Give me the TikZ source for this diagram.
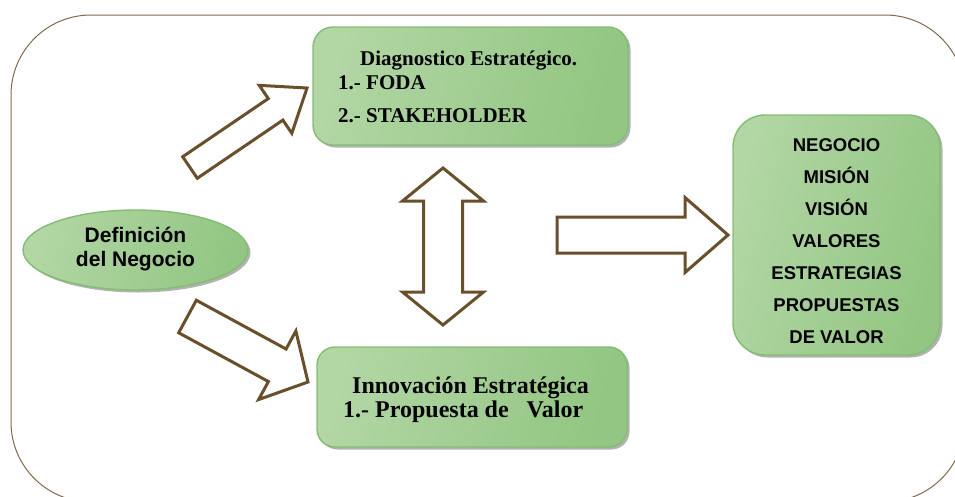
\documentclass[tikz,border=0pt]{standalone}
\usepackage{fontspec}
\setmainfont{Liberation Serif}
\setsansfont{Liberation Sans}
\usetikzlibrary{shapes.geometric,shadows,calc}
\definecolor{brownA}{RGB}{106,79,42}
\definecolor{frameC}{RGB}{128,106,72}
\definecolor{gEdge}{RGB}{130,190,112}
\definecolor{gDark}{RGB}{146,198,130}
\definecolor{gMid}{RGB}{178,214,164}
\definecolor{gLight}{RGB}{224,238,218}
\tikzset{
  gshape/.style={draw=gEdge, line width=1.4pt, shading=axis, left color=gMid,
    middle color=gLight, right color=gDark, shading angle=75,
    drop shadow={shadow xshift=2.5pt, shadow yshift=-2.5pt, fill=black!55, opacity=.55},
    inner sep=0pt},
  gbox/.style={gshape, rectangle},
  gell/.style={gshape, ellipse},
  serifA/.style={inner sep=0pt, font=\rmfamily\bfseries\fontsize{21}{24}\selectfont},
  serifB/.style={inner sep=0pt, font=\rmfamily\bfseries\fontsize{24}{26}\selectfont},
  barrow/.style={draw=brownA, line width=3pt, fill=white, line join=miter},
}
\newcommand\blockarrow[6]{% name, tail, tip, half shaft, half head, head length
  \coordinate (#1-h) at ($(#3)!#6!(#2)$);
  \draw[barrow] ($(#2)!#4!90:(#3)$) -- ($(#1-h)!#4!90:(#3)$) -- ($(#1-h)!#5!90:(#3)$)
    -- (#3) -- ($(#1-h)!#5!-90:(#3)$) -- ($(#1-h)!#4!-90:(#3)$) -- ($(#2)!#4!-90:(#3)$) -- cycle;
}
\newcommand\doubleblockarrow[5]{% name, tip1, tip2, half shaft, half head
  \coordinate (#1-h1) at ($(#2)!33pt!(#3)$);
  \coordinate (#1-h2) at ($(#3)!33pt!(#2)$);
  \draw[barrow] (#2) -- ($(#1-h1)!#5!90:(#3)$) -- ($(#1-h1)!#4!90:(#3)$)
    -- ($(#1-h2)!#4!-90:(#2)$) -- ($(#1-h2)!#5!-90:(#2)$) -- (#3)
    -- ($(#1-h2)!#5!90:(#2)$) -- ($(#1-h2)!#4!90:(#2)$)
    -- ($(#1-h1)!#4!-90:(#3)$) -- ($(#1-h1)!#5!-90:(#3)$) -- cycle;
}
\begin{document}
\begin{tikzpicture}[x=1pt, y=-1pt]
\useasboundingbox (0,0) rectangle (955,496);
% outer frame
\draw[frameC, line width=1pt, rounded corners=80pt] (11,15) rectangle (965,502);

% nodes
\node[gbox, rounded corners=20pt, minimum width=315pt, minimum height=118pt] (diag) at (470.5,86) {};
\node[gbox, rounded corners=18pt, minimum width=310pt, minimum height=100pt] (innov) at (472,397) {};
\node[gbox, rounded corners=32pt, minimum width=207pt, minimum height=240pt] (res) at (836.5,235) {};
\node[gell, minimum width=225pt, minimum height=80pt] (def) at (135.5,250) {};

% texts
\node[serifA, anchor=base west] (d1) at (360,65) {Diagnostico Estratégico.};
\node[serifA, anchor=base west] (d2) at (338,89) {1.- FODA};
\node[serifA, anchor=base west] (d3) at (338,122) {2.- STAKEHOLDER};
\node[serifB, anchor=base west] (i1) at (352,393) {Innovación Estratégica};
\node[serifB, anchor=base west] (i2) at (343,417) {1.- Propuesta de\ \ \ Valor};
\node[inner sep=0pt, align=center, font=\sffamily\bfseries\fontsize{21}{24}\selectfont] (dt) at (135.5,249) {Definición\\del Negocio};
\node[inner sep=0pt, align=center, font=\sffamily\bfseries\fontsize{18.5}{32}\selectfont] (rt) at (836.5,241)
  {NEGOCIO\\MISIÓN\\VISIÓN\\VALORES\\ESTRATEGIAS\\PROPUESTAS\\DE VALOR};

% block arrows
\coordinate (a1t) at (190,167.5);
\coordinate (a1p) at (307,88);
\blockarrow{a1}{a1t}{a1p}{13pt}{29pt}{38pt}
\coordinate (a2t) at (187.5,316.5);
\coordinate (a2p) at (308,382);
\blockarrow{a2}{a2t}{a2p}{18.5pt}{39pt}{35pt}
\coordinate (a3t) at (557,235);
\coordinate (a3p) at (728,235);
\blockarrow{a3}{a3t}{a3p}{18pt}{37.5pt}{43pt}
\coordinate (a4a) at (443,168);
\coordinate (a4b) at (443,325);
\doubleblockarrow{a4}{a4a}{a4b}{19.5pt}{40.5pt}
\end{tikzpicture}
\end{document}
